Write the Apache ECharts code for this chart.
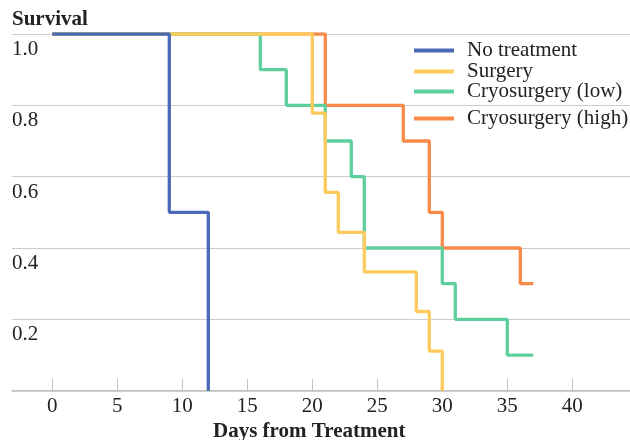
<!DOCTYPE html>
<html><head><meta charset="utf-8">
<script src="https://cdn.jsdelivr.net/npm/echarts@6/dist/echarts.min.js"></script>
<style>html,body{margin:0;padding:0;background:#fff}#c{width:630px;height:440px}</style>
</head><body><div id="c"></div>
<script>
const seriesNames = ['No treatment', 'Surgery', 'Cryosurgery (low)', 'Cryosurgery (high)'];
const noTreatment = [[0, 1], [9, 0.5], [12, 0]];
const surgery = [[0, 1], [20, 0.778], [21, 0.556], [22, 0.444], [24, 0.333], [28, 0.222], [29, 0.111], [30, 0]];
const cryoLow = [[0, 1], [16, 0.9], [18, 0.8], [21, 0.7], [23, 0.6], [24, 0.4], [30, 0.3], [31, 0.2], [35, 0.1], [37, 0.1]];
const cryoHigh = [[0, 1], [21, 0.8], [27, 0.7], [29, 0.5], [30, 0.4], [36, 0.3], [37, 0.3]];
const xTicks = [0, 5, 10, 15, 20, 25, 30, 35, 40];
const colors = ['#4a6ab8', '#fdcb5c', '#5dcf9d', '#f88a47'];
const FONT = '"Liberation Serif", "Times New Roman", serif';

const chart = echarts.init(document.getElementById('c'));
const dataSets = [noTreatment, surgery, cryoLow, cryoHigh];
const zs = [6, 5, 4, 3];
const legendTops = [35, 56, 76, 103];
chart.setOption({
  animation: false,
  textStyle: { fontFamily: FONT },
  title: [
    { text: 'Survival', left: 7, top: 4, textStyle: { fontFamily: FONT, fontWeight: 'bold', fontSize: 21, color: '#222' } },
    { text: 'Days from Treatment', left: 208, top: 416, textStyle: { fontFamily: FONT, fontWeight: 'bold', fontSize: 21, color: '#222' } }
  ],
  legend: seriesNames.map((n, i) => ({
    data: [n], left: 409, top: legendTops[i], icon: 'rect', itemWidth: 40, itemHeight: 4,
    textStyle: { fontFamily: FONT, fontSize: 21, color: '#222', padding: [0, 0, 0, 8], lineHeight: 20 }
  })),
  grid: { left: 12, right: 0, top: 34, bottom: 49.3, containLabel: false },
  xAxis: {
    type: 'value', min: -3.1, max: 44.44,
    axisLine: { show: true, lineStyle: { color: '#bdbdbd', width: 1.5 } },
    axisTick: { show: true, inside: true, length: 12, customValues: xTicks, lineStyle: { color: '#c4c4c4', width: 1 } },
    axisLabel: { customValues: xTicks, fontFamily: FONT, fontSize: 21, color: '#222', margin: 5 },
    splitLine: { show: false }
  },
  yAxis: {
    type: 'value', min: 0, max: 1, interval: 0.2,
    axisLine: { show: false }, axisTick: { show: false },
    axisLabel: { inside: true, verticalAlign: 'top', margin: 0, padding: [5, 0, 0, 0], fontFamily: FONT, fontSize: 21, color: '#222',
      formatter: v => v === 0 ? '' : v.toFixed(1) },
    splitLine: { show: true, lineStyle: { color: '#cccccc', width: 1 } }
  },
  series: seriesNames.map((n, i) => ({
    name: n, type: 'line', step: 'end', data: dataSets[i], symbol: 'none', z: zs[i],
    lineStyle: { color: colors[i], width: 3.3 }, itemStyle: { color: colors[i] }
  }))
});
</script></body></html>
